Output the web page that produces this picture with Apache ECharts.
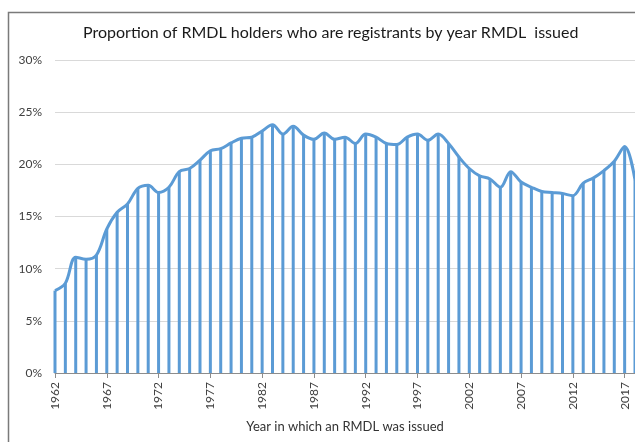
<!DOCTYPE html>
<html>
<head>
<meta charset="utf-8">
<script src="https://cdn.jsdelivr.net/npm/echarts@6/dist/echarts.min.js"></script>
<style>
  html, body { margin: 0; padding: 0; background: #fff; }
  #chart { width: 635px; height: 442px; }
</style>
</head>
<body>
<div id="chart"></div>
<script>
  // years the RMDL was issued (1962 - 2018)
  const years = [];
  for (let y = 1962; y <= 2018; y++) years.push(String(y));

  // proportion of holders who are registrants, in %
  const share = [
    7.9, 8.6, 11.1, 10.9, 11.3, 13.8, 15.4, 16.2, 17.7, 18.0,
    17.3, 17.8, 19.3, 19.6, 20.4, 21.3, 21.5, 22.05, 22.5, 22.6,
    23.2, 23.8, 22.9, 23.65, 22.8, 22.4, 23.0, 22.4, 22.6, 22.0,
    22.9, 22.6, 22.0, 21.9, 22.6, 22.9, 22.3, 22.9, 22.0, 20.7,
    19.6, 18.9, 18.6, 17.8, 19.3, 18.3, 17.8, 17.4, 17.3, 17.2,
    17.0, 18.2, 18.7, 19.4, 20.3, 21.7, 18.5
  ];

  const blue = '#5B9BD5';
  const font = 'Lato, "Open Sans", sans-serif';

  const chart = echarts.init(document.getElementById('chart'));
  const option = {
    backgroundColor: '#fff',
    animation: false,
    title: {
      text: 'Proportion of RMDL holders who are registrants by year RMDL  issued',
      left: 78,
      top: 20,
      textStyle: { fontFamily: font, fontSize: 16, fontWeight: 'normal', color: '#1a1a1a' }
    },
    graphic: [{
      type: 'rect',
      shape: { x: 8.5, y: 12.5, width: 700, height: 500 },
      style: { fill: 'none', stroke: '#7a7a7a', lineWidth: 1.5 },
      z: -1
    }],
    grid: { left: 55, right: -2.4, top: 60, bottom: 69, containLabel: false },
    xAxis: {
      type: 'category',
      data: years,
      boundaryGap: false,
      name: 'Year in which an RMDL was issued',
      nameLocation: 'middle',
      nameGap: 47,
      nameTextStyle: { fontFamily: font, fontSize: 13, color: '#333' },
      axisLine: { lineStyle: { color: '#8c8c8c', width: 1 } },
      axisTick: { interval: 4, length: 5, lineStyle: { color: '#8c8c8c' } },
      axisLabel: { interval: 4, rotate: 90, margin: 9, fontFamily: font, fontSize: 12, color: '#404040' }
    },
    yAxis: {
      type: 'value',
      min: 0,
      max: 30,
      interval: 5,
      axisLine: { show: false },
      axisTick: { show: false },
      axisLabel: { formatter: '{value}%', margin: 13, fontFamily: font, fontSize: 12, color: '#404040' },
      splitLine: { lineStyle: { color: '#d9d9d9', width: 1 } }
    },
    series: [
      {
        // drop lines from each point down to the axis
        type: 'bar',
        data: share,
        barWidth: 3,
        itemStyle: { color: blue },
        silent: true
      },
      {
        type: 'line',
        data: share,
        smooth: 0.35,
        symbol: 'none',
        lineStyle: { color: blue, width: 3 },
        z: 3
      }
    ]
  };
  chart.setOption(option);
</script>
</body>
</html>
